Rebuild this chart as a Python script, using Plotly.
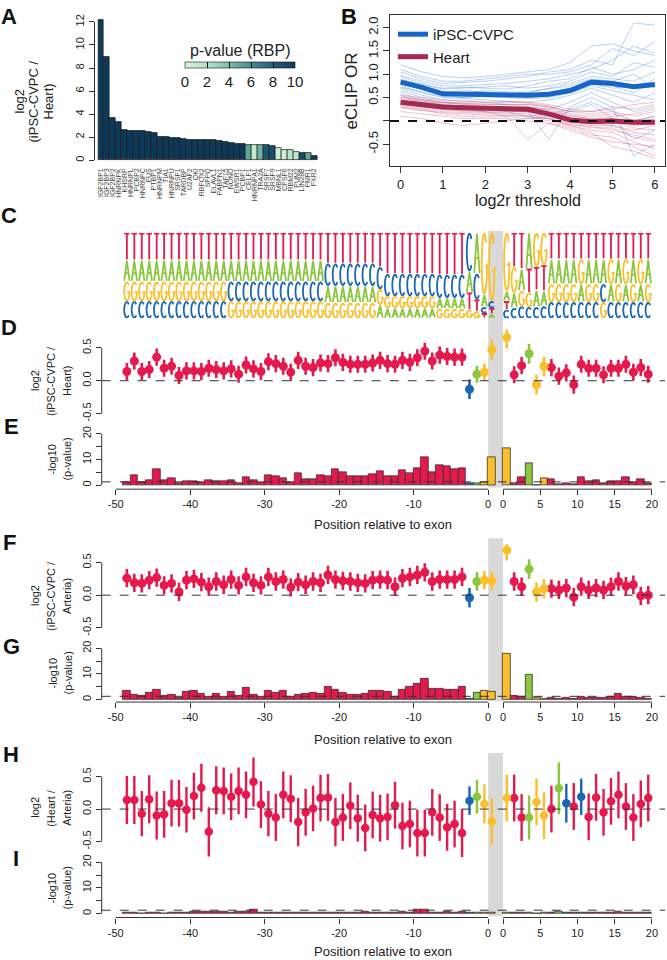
import math
import plotly.graph_objects as go

W, H = 667, 960
FONT = "Liberation Sans, Arial, Helvetica, sans-serif"
TXT = "#222222"

# ---------------- Panel A data ----------------
rbp_names = ["IGF2BP1", "IGF2BP3", "IGF2BP2", "HNRNPK", "KHSRP", "HNRNPL", "PCBP2", "HNRNPC",
             "FUS", "PTBP1", "HNRNPM", "TIA1", "HNRNPU", "SRSF1", "TARDBP", "U2AF2", "QKI",
             "RBFOX2", "SFPQ", "ELAVL1", "PABPN1", "TAF15", "NONO", "EWSR1", "PCBP1", "CELF1",
             "HNRNPA1", "TRA2A", "SRSF7", "SRSF9", "MBNL1", "CPSF6", "RBM22", "PUM2", "LIN28B",
             "FMR1", "FXR2"]
rbp_log2 = [12.2, 9.0, 3.65, 3.35, 2.6, 2.55, 2.55, 2.55, 2.45, 2.35, 2.05, 2.0, 1.9, 1.9,
            1.85, 1.8, 1.75, 1.75, 1.75, 1.75, 1.7, 1.55, 1.5, 1.4, 1.4, 1.35, 1.35, 1.3, 1.3,
            1.25, 1.1, 0.9, 0.9, 0.75, 0.65, 0.6, 0.4]
rbp_pval = [10, 10, 10, 10, 10, 10, 10, 10, 10, 10, 10, 10, 10, 10, 10, 10, 10, 10, 10, 10,
            10, 10, 10, 10, 10, 5, 1, 4.5, 8.5, 9, 0.5, 0.3, 1.5, 1.2, 9, 5, 10]

# ---------------- Panel B data ----------------
thresholds = [0, 0.5, 1, 1.5, 2, 2.5, 3, 3.5, 4, 4.5, 5, 5.5, 6]
cvpc_mean = [0.83, 0.72, 0.58, 0.57, 0.58, 0.57, 0.55, 0.57, 0.65, 0.83, 0.80, 0.73, 0.78]
heart_mean = [0.40, 0.35, 0.30, 0.28, 0.27, 0.28, 0.25, 0.15, 0.02, -0.02, 0.00, -0.03, -0.03]
cvpc_rbps = [
    [1.20, 1.05, 0.95, 0.92, 0.95, 1.00, 1.05, 1.10, 1.25, 1.60, 1.65, 1.50, 1.40],
    [1.05, 0.90, 0.80, 0.82, 0.85, 0.90, 0.95, 1.05, 1.10, 1.30, 1.20, 2.10, 2.05],
    [0.95, 0.80, 0.70, 0.72, 0.70, 0.68, 0.75, 0.85, 0.90, 1.15, 1.00, 1.10, 1.30],
    [0.90, 0.75, 0.62, 0.60, 0.65, 0.62, 0.60, 0.70, 0.80, 0.95, 0.90, 0.85, 1.05],
    [0.85, 0.70, 0.58, 0.55, 0.55, 0.60, 0.55, 0.60, 0.70, 0.85, 0.75, 0.60, 0.90],
    [0.80, 0.68, 0.55, 0.50, 0.52, 0.50, 0.48, 0.50, 0.60, 0.75, 0.65, 0.55, 0.45],
    [0.75, 0.60, 0.50, 0.48, 0.45, 0.42, 0.40, 0.45, 0.55, 0.70, 0.55, 0.40, 0.60],
    [0.70, 0.55, 0.45, 0.42, 0.40, 0.35, 0.30, 0.25, 0.40, 0.60, 0.40, 0.20, 0.30],
    [0.65, 0.50, 0.40, 0.35, 0.30, 0.25, 0.20, -0.40, 0.30, 0.50, 0.30, -0.75, -0.50],
    [0.60, 0.45, 0.35, 0.30, 0.25, 0.20, 0.10, 0.15, 0.25, 0.40, 0.20, 0.00, 0.10],
    [1.10, 0.95, 0.85, 0.85, 0.90, 0.95, 1.00, 1.00, 1.05, 1.20, 1.55, 1.40, 1.70],
    [0.88, 0.78, 0.68, 0.70, 0.72, 0.75, 0.70, 0.75, 0.85, 1.05, 0.95, 1.25, 1.15],
    [0.72, 0.62, 0.52, 0.50, 0.55, 0.55, 0.50, 0.55, 0.65, 0.80, 0.70, 0.75, 0.80],
    [0.98, 0.85, 0.75, 0.75, 0.78, 0.80, 0.85, 0.90, 1.00, 1.10, 1.30, 1.60, 1.45],
    [0.55, 0.40, 0.30, 0.25, 0.20, 0.10, 0.05, 0.10, 0.20, 0.35, 0.05, -0.40, -0.20],
    [0.82, 0.70, 0.60, 0.65, 0.62, 0.58, 0.62, 0.68, 0.75, 0.90, 0.85, 1.00, 0.70],
]
heart_rbps = [
    [0.55, 0.50, 0.45, 0.42, 0.40, 0.42, 0.40, 0.35, 0.25, 0.20, 0.30, 0.25, 0.35],
    [0.50, 0.45, 0.40, 0.38, 0.35, 0.35, 0.35, 0.30, 0.15, 0.10, 0.15, 0.00, 0.10],
    [0.45, 0.40, 0.35, 0.32, 0.30, 0.30, 0.28, 0.22, 0.10, 0.05, 0.05, -0.10, -0.05],
    [0.42, 0.36, 0.30, 0.28, 0.25, 0.25, 0.22, 0.15, 0.05, -0.05, 0.00, -0.15, -0.20],
    [0.38, 0.32, 0.26, 0.24, 0.22, 0.22, 0.18, 0.10, 0.00, -0.10, -0.10, -0.25, -0.30],
    [0.35, 0.30, 0.25, 0.22, 0.20, 0.18, 0.15, 0.05, -0.05, -0.15, -0.15, -0.35, -0.45],
    [0.32, 0.26, 0.20, 0.18, 0.15, 0.15, 0.10, 0.00, -0.10, -0.20, -0.25, -0.45, -0.60],
    [0.30, 0.24, 0.15, 0.10, 0.08, 0.10, -0.40, -0.05, -0.15, -0.30, -0.35, -0.55, -0.75],
    [0.10, 0.05, -0.05, -0.10, -0.05, 0.00, 0.05, 0.05, -0.10, -0.25, -0.55, -0.65, -0.80],
    [0.48, 0.42, 0.38, 0.36, 0.34, 0.36, 0.35, 0.30, 0.20, 0.20, 0.25, 0.35, 0.40],
    [0.40, 0.34, 0.28, 0.26, 0.26, 0.28, 0.25, 0.18, 0.05, 0.00, 0.05, -0.05, 0.05],
    [0.36, 0.30, 0.24, 0.20, 0.18, 0.20, 0.20, 0.12, -0.02, -0.05, -0.10, -0.20, -0.10],
    [0.28, 0.22, 0.18, 0.15, 0.12, 0.12, 0.10, 0.05, -0.08, -0.12, -0.20, -0.30, -0.40],
    [0.44, 0.38, 0.32, 0.30, 0.28, 0.28, 0.30, 0.25, 0.12, 0.05, 0.10, 0.15, 0.25],
    [0.20, 0.15, 0.10, 0.05, 0.05, 0.05, 0.00, -0.05, -0.20, -0.35, -0.45, -0.50, -0.55],
    [0.52, 0.46, 0.40, 0.38, 0.38, 0.40, 0.38, 0.32, 0.20, 0.15, 0.20, 0.10, 0.20],
]

# ---------------- Positions (panels C-I) ----------------
intron_pos = list(range(-49, 1))   # last intron-side column sits in the grey band
exon_pos = list(range(0, 20))

# ---------------- Panel C: sequence logo (letter frequencies) ----------------
logo_T = [.32, .32, .32, .32, .32, .32, .32, .32, .32, .32, .32, .32, .32, .32,
          .32, .32, .32, .32, .32, .32, .32, .32, .32, .32, .32, .32, .32,
          .36, .36, .36, .36, .36, .36, .36, .40,
          .48, .48, .48, .48, .48, .48, .48, .49, .49, .49, .49,
          .20, .14, .06, .07,
          .10, .40, .42, .28, .27, .30,
          .31, .31, .31, .31, .31, .31, .31, .31, .31, .31, .31, .31, .31, .31]
logo_A = [.25, .25, .25, .25, .25, .25, .25, .25, .25, .25, .25, .25, .25, .25,
          .25, .25, .25, .25, .25, .25, .25, .25, .25, .25, .25, .25, .25,
          .20, .20, .20, .20, .20, .20, .20, .16,
          .12, .12, .12, .12, .12, .12, .12, .13, .13, .13, .13,
          .25, .48, .15, .05,
          .12, .18, .26, .42, .20, .18,
          .29, .29, .29, .29, .21, .29, .29, .29, .21, .29, .21, .29, .21, .29]
logo_C = [.20, .20, .20, .20, .20, .20, .20, .20, .20, .20, .20, .20, .20, .20,
          .23, .23, .23, .23, .23, .23, .23, .23, .23, .23, .23, .23, .23,
          .26, .26, .26, .26, .26, .26, .26, .26,
          .26, .26, .26, .26, .26, .26, .26, .27, .27, .27, .27,
          .45, .30, .07, .08,
          .10, .12, .14, .13, .13, .14,
          .19, .19, .19, .19, .19, .19, .19, .21, .19, .19, .19, .19, .19, .19]
logo_G = [.23, .23, .23, .23, .23, .23, .23, .23, .23, .23, .23, .23, .23, .23,
          .20, .20, .20, .20, .20, .20, .20, .20, .20, .20, .20, .20, .20,
          .18, .18, .18, .18, .18, .18, .18, .18,
          .14, .14, .14, .14, .14, .14, .14, .11, .11, .11, .11,
          .10, .08, .72, .80,
          .68, .30, .18, .17, .40, .38,
          .21, .21, .21, .21, .29, .21, .21, .19, .29, .21, .29, .21, .29, .21]

# top nucleotide per column (colour key of panels D-G and H-I)
top_DG = "T" * 46 + "CAGG" + "GTTAGG" + "T" * 14
top_HI = "T" * 46 + "CAGG" + "GTTAGGTACTC" + "T" * 9

# ---------------- Panel D / E (iPSC-CVPC vs Heart) ----------------
D_vals = [0.14, 0.30, 0.14, 0.17, 0.36, 0.19, 0.22, 0.08, 0.15, 0.15, 0.14, 0.19, 0.17, 0.15, 0.18,
          0.10, 0.24, 0.18, 0.14, 0.29, 0.26, 0.22, 0.13, 0.31, 0.22, 0.20, 0.27, 0.26, 0.35,
          0.28, 0.25, 0.25, 0.25, 0.27, 0.31, 0.26, 0.25, 0.31, 0.28, 0.35, 0.45, 0.30, 0.39, 0.37,
          0.36, 0.36,
          -0.13, 0.10, 0.13, 0.47,
          0.66, 0.09, 0.23, 0.41, -0.06, 0.22, 0.20, 0.07, 0.12, -0.06, 0.25, 0.19, 0.19, 0.09,
          0.19, 0.19, 0.25, 0.13, 0.20, 0.10]
D_err = [0.13, 0.13, 0.13, 0.13, 0.13, 0.13, 0.13, 0.13, 0.13, 0.13, 0.13, 0.13, 0.13, 0.13, 0.13,
         0.13, 0.13, 0.13, 0.13, 0.13, 0.13, 0.13, 0.13, 0.13, 0.13, 0.13, 0.13, 0.13, 0.13,
         0.13, 0.13, 0.13, 0.13, 0.13, 0.13, 0.13, 0.13, 0.13, 0.13, 0.13, 0.13, 0.13, 0.13, 0.13,
         0.13, 0.13,
         0.15, 0.13, 0.13, 0.16,
         0.17, 0.13, 0.13, 0.15, 0.15, 0.15, 0.13, 0.13, 0.13, 0.14, 0.13, 0.13, 0.13, 0.13,
         0.13, 0.13, 0.13, 0.13, 0.13, 0.13]
E_vals = [1.3, 3.8, 1.3, 2.0, 6.2, 1.9, 2.6, 0.6, 1.4, 1.4, 1.3, 2.0, 1.7, 1.5, 2.0, 0.9, 3.2, 1.8,
          1.3, 3.8, 3.3, 2.6, 1.2, 4.7, 2.3, 2.3, 4.0, 3.3, 6.2,
          4.9, 3.3, 3.6, 3.6, 4.1, 5.5, 3.6, 3.6, 5.8, 4.6, 6.7, 10.8, 4.9, 7.8, 7.2, 6.2, 6.5,
          0.8, 0.6, 1.0, 10.8,
          14.5, 0.8, 3.0, 8.7, 0.1, 2.8, 2.3, 0.4, 0.9, 0.3, 3.0, 1.7, 1.9, 0.8, 1.7, 1.5, 3.0,
          1.0, 2.2, 0.8]

# ---------------- Panel F / G (iPSC-CVPC vs Arteria) ----------------
F_vals = [0.26, 0.19, 0.18, 0.23, 0.27, 0.15, 0.18, 0.05, 0.23, 0.25, 0.20, 0.13, 0.21, 0.16, 0.24,
          0.15, 0.28, 0.19, 0.15, 0.28, 0.21, 0.24, 0.12, 0.20, 0.16, 0.21, 0.19, 0.31, 0.24,
          0.22, 0.21, 0.19, 0.18, 0.23, 0.24, 0.23, 0.13, 0.26, 0.28, 0.31, 0.35, 0.21, 0.24, 0.24,
          0.24, 0.28,
          -0.04, 0.21, 0.23, 0.22,
          0.69, 0.21, 0.13, 0.40, 0.05, 0.10, 0.10, 0.08, 0.11, -0.03, 0.13, 0.08, 0.11, 0.08,
          0.13, 0.21, 0.14, 0.16, -0.01, 0.00]
F_err = [0.14, 0.14, 0.14, 0.14, 0.14, 0.14, 0.14, 0.14, 0.14, 0.14, 0.14, 0.14, 0.14, 0.14, 0.14,
         0.14, 0.14, 0.14, 0.14, 0.14, 0.14, 0.14, 0.14, 0.14, 0.14, 0.14, 0.14, 0.14, 0.14,
         0.14, 0.14, 0.14, 0.14, 0.14, 0.14, 0.14, 0.14, 0.14, 0.14, 0.14, 0.14, 0.14, 0.14, 0.14,
         0.14, 0.14,
         0.15, 0.14, 0.14, 0.14,
         0.16, 0.14, 0.14, 0.15, 0.15, 0.15, 0.14, 0.14, 0.14, 0.14, 0.14, 0.14, 0.14, 0.14,
         0.14, 0.14, 0.14, 0.14, 0.14, 0.14]
G_vals = [3.5, 1.9, 1.5, 2.6, 3.9, 1.7, 1.9, 0.6, 3.0, 3.5, 2.2, 1.3, 2.3, 1.3, 3.2, 1.5, 4.5, 1.9,
          1.3, 3.5, 2.8, 3.5, 1.3, 1.9, 2.2, 2.8, 2.2, 5.2, 3.9,
          2.6, 1.9, 1.9, 2.2, 3.5, 3.5, 3.2, 1.3, 3.9, 5.2, 6.1, 8.0, 4.3, 4.3, 3.9, 3.9, 5.2,
          0.3, 2.6, 3.5, 3.2,
          17.7, 1.7, 1.3, 9.7, 0.6, 0.4, 0.6, 0.4, 0.9, 0.4, 1.0, 0.9, 0.9, 0.6, 1.0, 2.2, 1.0,
          1.3, 0.6, 0.4]

# ---------------- Panel H / I (Heart vs Arteria) ----------------
H_vals = [0.14, 0.14, -0.07, 0.15, -0.10, -0.08, 0.09, 0.09, -0.01, 0.20, 0.33, -0.35, 0.29, 0.28,
          0.19, 0.28, 0.22, 0.42, 0.07, -0.07, -0.13, 0.22, 0.16, -0.20, -0.05, 0.01, 0.17, 0.18,
          -0.20,
          -0.13, 0.05, -0.14, -0.29, -0.09, -0.14, -0.12, 0.06, -0.26, -0.23, -0.37, -0.37, -0.05,
          -0.13, -0.28, -0.23, -0.37,
          0.13, 0.19, 0.08, -0.19,
          0.17, 0.17, -0.13, -0.13, 0.11, -0.10, 0.00, 0.32, 0.09, 0.04, 0.19, -0.12, 0.18, -0.05,
          0.12, 0.22, 0.04, -0.13, 0.08, 0.17]
H_err = [0.37, 0.37, 0.35, 0.37, 0.37, 0.36, 0.36, 0.36, 0.35, 0.36, 0.37, 0.38, 0.37, 0.36,
         0.36, 0.36, 0.36, 0.38, 0.36, 0.35, 0.36, 0.36, 0.36, 0.37, 0.36, 0.35, 0.36, 0.36,
         0.37,
         0.36, 0.36, 0.36, 0.36, 0.36, 0.36, 0.36, 0.36, 0.36, 0.36, 0.36, 0.36, 0.36,
         0.36, 0.36, 0.36, 0.37,
         0.22, 0.26, 0.30, 0.36,
         0.36, 0.36, 0.36, 0.34, 0.36, 0.36, 0.36, 0.40, 0.30, 0.36, 0.28, 0.36, 0.36, 0.36,
         0.36, 0.36, 0.36, 0.36, 0.36, 0.36]
I_vals = [0.2, 0.2, 0.15, 0.2, 0.2, 0.15, 0.2, 0.2, 0.2,
          0.6, 0.8, 0.7, 0.6, 0.7, 0.5, 0.6, 0.6,
          1.4,
          0.3, 0.2, 0.3, 0.5, 0.3, 0.4, 0.3, 0.2, 0.3, 0.3, 0.4,
          0.3, 0.3, 0.3, 0.9, 0.2, 0.2, 0.3, 0.3, 0.8, 0.5, 1.4, 1.4, 0.3, 0.2, 0.8, 0.3, 0.9,
          0.2, 0.5, 0.2, 0.5,
          0.2, 0.3, 0.2, 0.2, 0.1, 0.2, 0.2, 0.9, 0.2, 0.2, 0.3, 0.2, 0.2, 0.2, 0.2, 0.7, 0.2,
          0.2, 0.2, 0.2]

# ---------------- styles ----------------
NUC_COL = {"A": "#8cc63e", "C": "#1a67b3", "G": "#fbbf2b", "T": "#e5194c"}
PV_SCALE = [[0, "#d6f2d5"], [0.25, "#a8dcc0"], [0.45, "#6cb0a3"], [0.65, "#3a8090"],
            [0.85, "#1d5573"], [1, "#0e3a5a"]]


def px_x(p):
    return p / W


def px_y(p):
    return 1 - p / H


def xd(l, r):
    return [l / W, r / W]


def yd(top, bot):
    return [1 - bot / H, 1 - top / H]


# x coordinate of each column on the shared position axis
xcol = [p + 0.5 for p in intron_pos] + [q + 2.5 for q in exon_pos]

fig = go.Figure()

# ====== Panel A ======
fig.add_trace(go.Bar(
    x=list(range(len(rbp_names))), y=rbp_log2, width=1.0,
    marker=dict(color=rbp_pval, colorscale=PV_SCALE, cmin=0, cmax=10,
                line=dict(color="#1a1a1a", width=0.7),
                colorbar=dict(orientation="h", x=240 / W, xanchor="center", y=px_y(57),
                              yanchor="top", len=110, lenmode="pixels", thickness=5.5,
                              thicknessmode="pixels", outlinewidth=0.6, outlinecolor="#111",
                              xpad=0, ypad=0,
                              tickvals=[0, 2, 4, 6, 8, 10], ticks="inside", ticklen=6,
                              tickcolor="#111", tickwidth=1,
                              tickfont=dict(size=15, color=TXT, family=FONT))),
    xaxis="x", yaxis="y", showlegend=False, hoverinfo="x+y"))

# ====== Panel B ======
for ys in cvpc_rbps:
    fig.add_trace(go.Scatter(x=thresholds, y=ys, mode="lines",
                             line=dict(color="rgba(40,115,215,0.33)", width=1),
                             xaxis="x2", yaxis="y2", showlegend=False, hoverinfo="skip"))
for ys in heart_rbps:
    fig.add_trace(go.Scatter(x=thresholds, y=ys, mode="lines",
                             line=dict(color="rgba(200,45,90,0.30)", width=1),
                             xaxis="x2", yaxis="y2", showlegend=False, hoverinfo="skip"))
fig.add_trace(go.Scatter(x=thresholds, y=cvpc_mean, mode="lines", name="iPSC-CVPC",
                         line=dict(color="#1666c8", width=5), xaxis="x2", yaxis="y2"))
fig.add_trace(go.Scatter(x=thresholds, y=heart_mean, mode="lines", name="Heart",
                         line=dict(color="#a6294f", width=5), xaxis="x2", yaxis="y2"))


# ====== Panel C: sequence logo drawn as stroked glyphs ======
def arc(cx, cy, rx, ry, a0, a1, n=16):
    pts = []
    for k in range(n + 1):
        t = math.radians(a0 + (a1 - a0) * k / n)
        pts.append((cx + rx * math.cos(t), cy + ry * math.sin(t)))
    return pts


def glyph(letter, x0, x1, y0, y1):
    w, h = x1 - x0, y1 - y0

    def P(u, v):
        return (x0 + u * w, y0 + v * h)

    if letter == "T":
        return [[P(0, 1), P(1, 1)], [P(0.5, 1), P(0.5, 0)]]
    if letter == "A":
        return [[P(0, 0), P(0.5, 1), P(1, 0)], [P(0.2, 0.38), P(0.8, 0.38)]]
    cx, cy = x0 + w / 2, y0 + h / 2
    if letter == "C":
        return [arc(cx, cy, w / 2, h / 2, 45, 315)]
    g = arc(cx, cy, w / 2, h / 2, 45, 360)
    g.append(P(1, 0.45))
    g.append(P(0.55, 0.45))
    return [g]


letter_freq = {"A": logo_A, "C": logo_C, "G": logo_G, "T": logo_T}
paths = {k: ([], []) for k in "ACGT"}
half_w = 0.36
for i, xc in enumerate(xcol):
    col = sorted("ACGT", key=lambda L: letter_freq[L][i])
    base = 0.0
    for L in col:
        f = letter_freq[L][i]
        y0, y1 = base, base + f
        pad = 0.009 if f > 0.04 else 0.0
        for line in glyph(L, xc - half_w, xc + half_w, y0 + pad, y1 - pad):
            for (gx, gy) in line:
                paths[L][0].append(gx)
                paths[L][1].append(gy)
            paths[L][0].append(None)
            paths[L][1].append(None)
        base = y1
for L in "ACGT":
    fig.add_trace(go.Scatter(x=paths[L][0], y=paths[L][1], mode="lines",
                             line=dict(color=NUC_COL[L], width=1.8), line_simplify=False,
                             xaxis="x3", yaxis="y3", showlegend=False, hoverinfo="skip"))


# ====== Panels D-I ======
def add_points(vals, errs, keys, xa, ya, msize, ethick):
    for L in "TACG":
        idx = [i for i, k in enumerate(keys) if k == L]
        if not idx:
            continue
        fig.add_trace(go.Scatter(
            x=[xcol[i] for i in idx], y=[vals[i] for i in idx], mode="markers",
            marker=dict(color=NUC_COL[L], size=msize, line=dict(width=0)),
            error_y=dict(type="data", array=[errs[i] for i in idx], color=NUC_COL[L],
                         thickness=ethick, width=0),
            xaxis=xa, yaxis=ya, showlegend=False, hoverinfo="x+y"))


def add_bars(vals, keys, xa, ya):
    fig.add_trace(go.Bar(
        x=xcol, y=vals, width=1.0,
        marker=dict(color=[NUC_COL[k] for k in keys], line=dict(color="#333333", width=0.8)),
        xaxis=xa, yaxis=ya, showlegend=False, hoverinfo="x+y"))


add_points(D_vals, D_err, top_DG, "x4", "y4", 9, 2.6)
add_bars(E_vals, top_DG, "x5", "y5")
add_points(F_vals, F_err, top_DG, "x6", "y6", 9, 2.6)
add_bars(G_vals, top_DG, "x7", "y7")
add_points(H_vals, H_err, top_HI, "x8", "y8", 8.5, 2.4)
add_bars(I_vals, top_HI, "x9", "y9")

# ---------------- layout ----------------
POS_RANGE = [-51.88, 23.75]
POS_DOM = xd(101.7, 665)
tick_font = dict(size=11, color=TXT, family=FONT)

layout = dict(
    width=W, height=H, margin=dict(l=0, r=0, t=0, b=0),
    paper_bgcolor="white", plot_bgcolor="rgba(0,0,0,0)",
    font=dict(family=FONT, color=TXT), barmode="overlay", bargap=0,
    showlegend=True,
    legend=dict(x=px_x(393), y=px_y(13), xanchor="left", yanchor="top",
                bgcolor="rgba(0,0,0,0)", font=dict(size=15, color=TXT, family=FONT),
                itemwidth=30, tracegroupgap=0),
)

# Panel A axes
nA = len(rbp_names)
bw = (317 - 98) / nA
layout["xaxis"] = dict(domain=xd(94.5, 321), range=[-0.5 - 3.5 / bw, nA - 0.5 + 4 / bw],
                       tickvals=list(range(nA)), ticktext=rbp_names, tickangle=-90,
                       tickfont=dict(size=7, color="#444", family=FONT), ticks="",
                       showgrid=False, zeroline=False, showline=False, anchor="y")
layout["yaxis"] = dict(domain=yd(9, 161.7), range=[-0.49, 12.69],
                       tickvals=[0, 2, 4, 6, 8, 10, 12], ticks="outside", ticklen=5,
                       tickcolor="#333", tickangle=-90, tickfont=tick_font,
                       showgrid=False, zeroline=False, showline=False, anchor="x")

# Panel B axes
layout["xaxis2"] = dict(domain=xd(390, 665), range=[-0.25, 6.24], tickvals=[0, 1, 2, 3, 4, 5, 6],
                        ticks="outside", ticklen=6, tickcolor="#333",
                        tickfont=dict(size=13, color=TXT, family=FONT), showline=True,
                        linecolor="#333", linewidth=1, mirror=True, showgrid=False,
                        zeroline=False, anchor="y2")
layout["yaxis2"] = dict(domain=yd(10, 162), range=[-0.97, 2.27],
                        tickvals=[-0.5, 0, 0.5, 1.0, 1.5, 2.0],
                        ticktext=["-0.5", "", "0.5", "1.0", "1.5", "2.0"], tickangle=-90,
                        ticks="outside", ticklen=6, tickcolor="#333",
                        tickfont=dict(size=13, color=TXT, family=FONT), showline=True,
                        linecolor="#333", linewidth=1, mirror=True, showgrid=False,
                        zeroline=False, anchor="x2")

# Panel C axes
layout["xaxis3"] = dict(domain=POS_DOM, range=POS_RANGE, visible=False, anchor="y3")
layout["yaxis3"] = dict(domain=yd(229, 315), range=[0, 1], visible=False, anchor="x3")

pos_ticks = [-50, -40, -30, -20, -10, 0, 2, 7, 12, 17, 22]
pos_text = ["-50", "-40", "-30", "-20", "-10", "0", "0", "5", "10", "15", "20"]

panels = [
    ("4", "pt", 326.2, 422.6, [-0.68, 0.78]),
    ("5", "bar", 428.5, 486.7, [-1.55, 21]),
    ("6", "pt", 542.1, 637.9, [-0.68, 0.78]),
    ("7", "bar", 644.1, 700.7, [-0.93, 21]),
    ("8", "pt", 756.1, 860.5, [-0.8, 0.8]),
    ("9", "bar", 859.1, 917.3, [-1.55, 21]),
]
shapes = []
for n, kind, top, bot, yr in panels:
    xa = dict(domain=POS_DOM, range=POS_RANGE, showgrid=False, zeroline=False, showline=False,
              anchor="y" + n)
    if kind == "bar":
        xa.update(tickvals=pos_ticks, ticktext=pos_text, ticks="outside", ticklen=5,
                  tickcolor="#333", tickfont=dict(size=11, color=TXT, family=FONT))
        ya = dict(tickvals=[0, 5, 10, 15, 20], ticktext=["0", "", "10", "", "20"])
        thr = 1.3
        yl = (0, 20)
    else:
        xa.update(showticklabels=False, ticks="")
        ya = dict(tickvals=[-0.5, 0, 0.5], ticktext=["-0.5", "0.0", "0.5"])
        thr = 0
        yl = (-0.5, 0.5)
    ya.update(domain=yd(top, bot), range=yr, ticks="outside", ticklen=5, tickcolor="#333",
              tickangle=-90, tickfont=tick_font, showgrid=False, zeroline=False,
              showline=False, anchor="x" + n)
    layout["xaxis" + n] = xa
    layout["yaxis" + n] = ya
    shapes.append(dict(type="line", xref="x%s domain" % n, yref="y" + n, x0=0, x1=0,
                       y0=yl[0], y1=yl[1], line=dict(color="#333", width=1)))
    shapes.append(dict(type="line", xref="x%s domain" % n, yref="y" + n, x0=0, x1=1,
                       y0=thr, y1=thr, line=dict(color="#333", width=1, dash="dash")))
    if kind == "bar":
        shapes.append(dict(type="line", xref="x" + n, yref="y%s domain" % n, x0=-50, x1=0,
                           y0=0, y1=0, line=dict(color="#333", width=1)))
        shapes.append(dict(type="line", xref="x" + n, yref="y%s domain" % n, x0=2, x1=22,
                           y0=0, y1=0, line=dict(color="#333", width=1)))

shapes.append(dict(type="line", xref="x domain", yref="y", x0=0, x1=0, y0=0, y1=12,
                   line=dict(color="#333", width=1)))
shapes.append(dict(type="line", xref="x2 domain", yref="y2", x0=0, x1=1, y0=0, y1=0,
                   line=dict(color="#111", width=2, dash="dash")))

for top, bot in [(227, 485), (536, 700), (752, 916)]:
    shapes.append(dict(type="rect", xref="x4", yref="paper", x0=0, x1=2,
                       y0=px_y(bot), y1=px_y(top), fillcolor="#d9d9d9",
                       line=dict(width=0), layer="below"))
layout["shapes"] = shapes

ann = []
for lab, x, y in [("A", 9, 12), ("B", 349, 12), ("C", 9, 212), ("D", 9, 324), ("E", 12, 424),
                  ("F", 9, 540), ("G", 12, 645), ("H", 11, 753), ("I", 16, 858)]:
    ann.append(dict(text="<b>%s</b>" % lab, x=px_x(x), y=px_y(y), xref="paper", yref="paper",
                    showarrow=False, xanchor="center", yanchor="middle",
                    font=dict(size=22, color="#111", family=FONT)))


def vtitle(lines, xs, yc, size):
    for t, x in zip(lines, xs):
        ann.append(dict(text=t, x=px_x(x), y=px_y(yc), xref="paper", yref="paper",
                        showarrow=False, textangle=-90, xanchor="center", yanchor="middle",
                        font=dict(size=size, color=TXT, family=FONT)))


vtitle(["log2", "(iPSC-CVPC /", "Heart)"], [19, 33, 48], 97, 13)
vtitle(["eCLIP OR"], [352], 87, 17)
vtitle(["log2", "(iPSC-CVPC /", "Heart)"], [35, 51, 67], 378, 11)
vtitle(["-log10", "(p-value)"], [52, 67], 457, 11)
vtitle(["log2", "(iPSC-CVPC /", "Arteria)"], [35, 51, 67], 594, 11)
vtitle(["-log10", "(p-value)"], [52, 67], 672, 11)
vtitle(["log2", "(Heart /", "Arteria)"], [35, 51, 67], 807, 11)
vtitle(["-log10", "(p-value)"], [52, 67], 888, 11)

ann.append(dict(text="p-value (RBP)", x=px_x(240), y=px_y(46), xref="paper", yref="paper",
                showarrow=False, xanchor="center", yanchor="middle",
                font=dict(size=16, color=TXT, family=FONT)))
ann.append(dict(text="log2r threshold", x=px_x(527.5), y=px_y(197), xref="paper", yref="paper",
                showarrow=False, xanchor="center", yanchor="middle",
                font=dict(size=16, color=TXT, family=FONT)))
for yc in [522, 738, 951]:
    ann.append(dict(text="Position relative to exon", x=px_x(383), y=px_y(yc), xref="paper",
                    yref="paper", showarrow=False, xanchor="center", yanchor="middle",
                    font=dict(size=13, color=TXT, family=FONT)))
layout["annotations"] = ann

fig.update_layout(**layout)
fig.write_html("out.html", config={"displayModeBar": False},
               post_script="document.body.style.margin='0px';"
                           "document.body.style.overflow='hidden';")
